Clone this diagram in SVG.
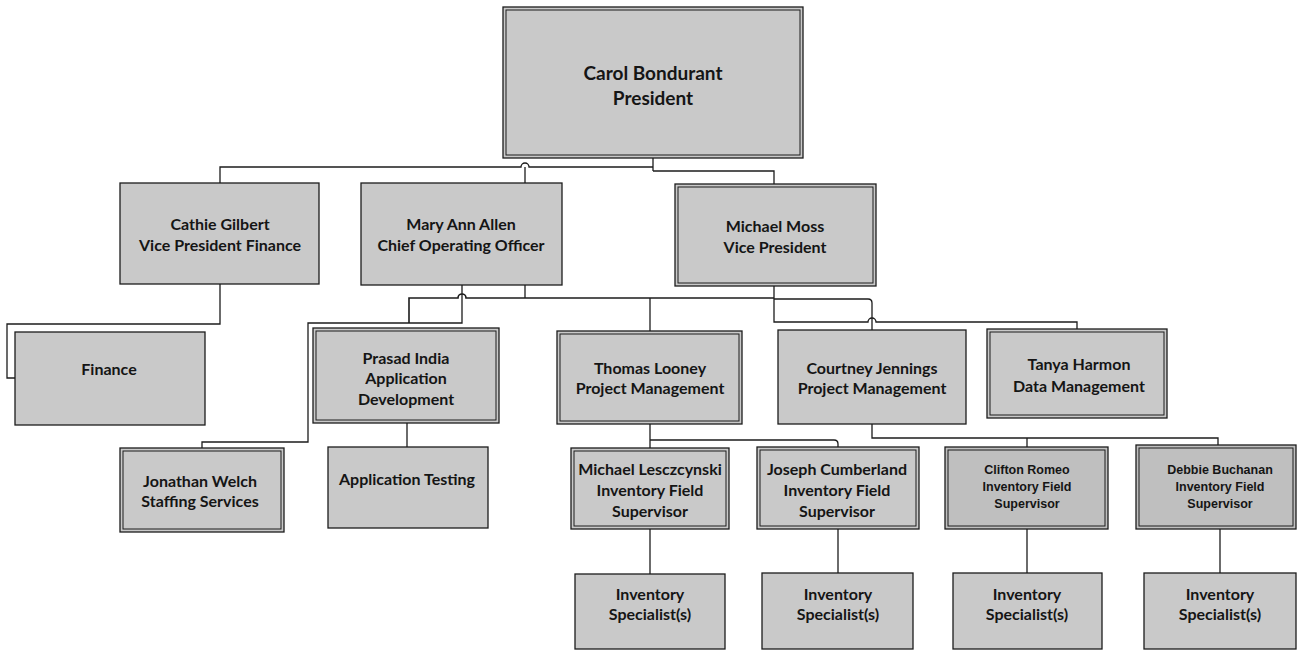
<svg xmlns="http://www.w3.org/2000/svg" width="1297" height="650" viewBox="0 0 1297 650">
<style>
.bx{fill:#c9c9c9;stroke:#1c1c1c;stroke-width:1.3}
.dk{fill:#bfbfbf}
.in{fill:none;stroke:#1c1c1c;stroke-width:1}
.t{font-family:Lato,"Liberation Sans",sans-serif;font-weight:bold;font-size:16px;fill:#151515;text-anchor:middle;dominant-baseline:central}
.big{font-size:19px}
.s{font-family:"Liberation Sans",Arial,sans-serif;font-weight:bold;font-size:12.5px;fill:#151515;text-anchor:middle;dominant-baseline:central}
.c{fill:none;stroke:#1c1c1c;stroke-width:1.3}
</style>
<rect width="1297" height="650" fill="#ffffff"/>
<g id="connectors">
<path class="c" d="M653,158 V171"/>
<path class="c" d="M220,183 V167 H521 a4,4 0 0 1 8,0 H653"/>
<path class="c" d="M525,167 V183"/>
<path class="c" d="M653,171 H774 V184"/>
<path class="c" d="M220,284 V324 H7 V378 H15"/>
<path class="c" d="M462,285 V323 H308 V442 H202 V448"/>
<path class="c" d="M525,285 V298"/>
<path class="c" d="M409,323 V298 H458 a4,4 0 0 1 8,0 H774" style="stroke-width:1.6"/>
<path class="c" d="M774,286 V322 H868 a4,4 0 0 1 8,0 H1077 V329"/>
<path class="c" d="M774,299 H868 q4,0 4,4 V330"/>
<path class="c" d="M650,298 V331"/>
<path class="c" d="M407,423 V447"/>
<path class="c" d="M650,424 V448"/>
<path class="c" d="M650,440 H834 q4,0 4,4 V447"/>
<path class="c" d="M872,424 V438 H1218 V445"/>
<path class="c" d="M1027,438 V447"/>
<path class="c" d="M650,529 V574"/>
<path class="c" d="M838,529 V573"/>
<path class="c" d="M1027,529 V573"/>
<path class="c" d="M1220,529 V573"/>
</g>
<g id="president">
<rect class="bx" x="503" y="7" width="300" height="151"/>
<rect class="in" x="506" y="10" width="294" height="145"/>
<text class="t big" x="653" y="72">Carol Bondurant</text>
<text class="t big" x="653" y="97">President</text>
</g>
<g id="cathie">
<rect class="bx" x="120" y="183" width="199" height="101"/>
<text class="t" x="220" y="223">Cathie Gilbert</text>
<text class="t" x="220" y="244">Vice President Finance</text>
</g>
<g id="maryann">
<rect class="bx" x="361" y="183" width="201" height="102"/>
<text class="t" x="461" y="223">Mary Ann Allen</text>
<text class="t" x="461" y="244">Chief Operating Officer</text>
</g>
<g id="moss">
<rect class="bx" x="675" y="184" width="201" height="102"/>
<rect class="in" x="678" y="187" width="195" height="96"/>
<text class="t" x="775" y="225">Michael Moss</text>
<text class="t" x="775" y="246">Vice President</text>
</g>
<g id="finance">
<rect class="bx" x="15" y="332" width="190" height="93"/>
<text class="t" x="109" y="368">Finance</text>
</g>
<g id="prasad">
<rect class="bx" x="313" y="328" width="186" height="95"/>
<rect class="in" x="316" y="331" width="180" height="89"/>
<text class="t" x="406" y="357">Prasad India</text>
<text class="t" x="406" y="377">Application</text>
<text class="t" x="406" y="398">Development</text>
</g>
<g id="thomas">
<rect class="bx" x="557" y="331" width="185" height="93"/>
<rect class="in" x="560" y="334" width="179" height="87"/>
<text class="t" x="650" y="367">Thomas Looney</text>
<text class="t" x="650" y="387">Project Management</text>
</g>
<g id="courtney">
<rect class="bx" x="778" y="330" width="188" height="94"/>
<text class="t" x="872" y="367">Courtney Jennings</text>
<text class="t" x="872" y="387">Project Management</text>
</g>
<g id="tanya">
<rect class="bx" x="987" y="329" width="180" height="89"/>
<rect class="in" x="990" y="332" width="174" height="83"/>
<text class="t" x="1079" y="363">Tanya Harmon</text>
<text class="t" x="1079" y="385">Data Management</text>
</g>
<g id="jonathan">
<rect class="bx" x="120" y="448" width="164" height="84"/>
<rect class="in" x="123" y="451" width="158" height="78"/>
<text class="t" x="200" y="480">Jonathan Welch</text>
<text class="t" x="200" y="500">Staffing Services</text>
</g>
<g id="apptesting">
<rect class="bx" x="328" y="447" width="160" height="81"/>
<text class="t" x="407" y="478">Application Testing</text>
</g>
<g id="lesczcynski">
<rect class="bx" x="571" y="448" width="158" height="81"/>
<rect class="in" x="574" y="451" width="152" height="75"/>
<text class="t" x="650" y="468">Michael Lesczcynski</text>
<text class="t" x="650" y="489">Inventory Field</text>
<text class="t" x="650" y="510">Supervisor</text>
</g>
<g id="joseph">
<rect class="bx" x="757" y="447" width="162" height="82"/>
<rect class="in" x="760" y="450" width="156" height="76"/>
<text class="t" x="837" y="468">Joseph Cumberland</text>
<text class="t" x="837" y="489">Inventory Field</text>
<text class="t" x="837" y="510">Supervisor</text>
</g>
<g id="clifton">
<rect class="bx dk" x="945" y="447" width="163" height="82"/>
<rect class="in" x="948" y="450" width="157" height="76"/>
<text class="s" x="1027" y="470">Clifton Romeo</text>
<text class="s" x="1027" y="487">Inventory Field</text>
<text class="s" x="1027" y="504">Supervisor</text>
</g>
<g id="debbie">
<rect class="bx dk" x="1136" y="445" width="160" height="84"/>
<rect class="in" x="1139" y="448" width="154" height="78"/>
<text class="s" x="1220" y="470">Debbie Buchanan</text>
<text class="s" x="1220" y="487">Inventory Field</text>
<text class="s" x="1220" y="504">Supervisor</text>
</g>
<g id="spec1">
<rect class="bx" x="575" y="574" width="150" height="75"/>
<text class="t" x="650" y="593">Inventory</text>
<text class="t" x="650" y="613">Specialist(s)</text>
</g>
<g id="spec2">
<rect class="bx" x="762" y="573" width="151" height="76"/>
<text class="t" x="838" y="593">Inventory</text>
<text class="t" x="838" y="613">Specialist(s)</text>
</g>
<g id="spec3">
<rect class="bx" x="953" y="573" width="149" height="76"/>
<text class="t" x="1027" y="593">Inventory</text>
<text class="t" x="1027" y="613">Specialist(s)</text>
</g>
<g id="spec4">
<rect class="bx" x="1144" y="573" width="152" height="76"/>
<text class="t" x="1220" y="593">Inventory</text>
<text class="t" x="1220" y="613">Specialist(s)</text>
</g>
</svg>
